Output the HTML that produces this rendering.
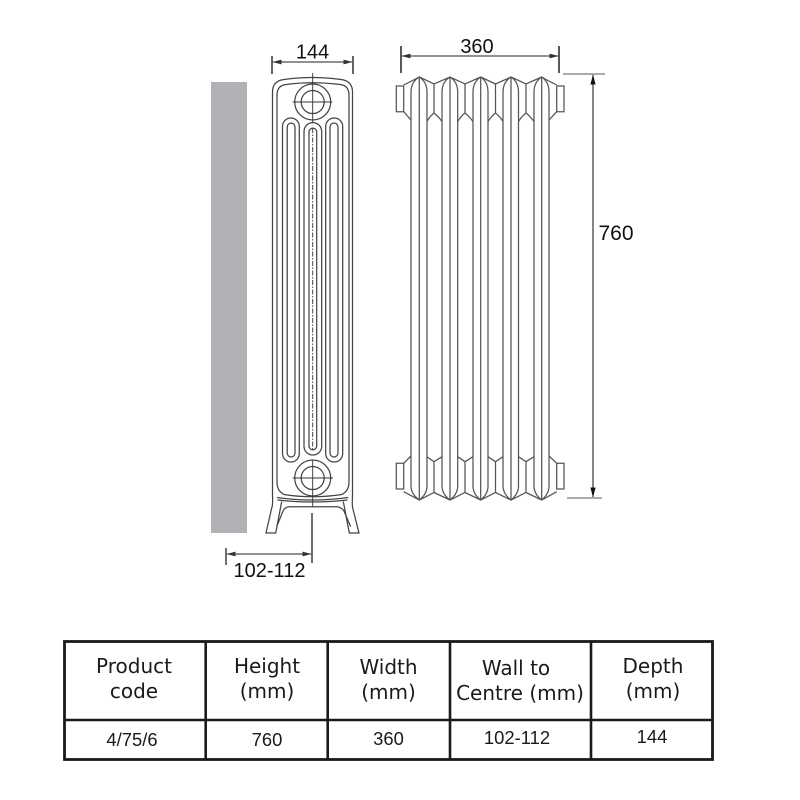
<!DOCTYPE html>
<html>
<head>
<meta charset="utf-8">
<style>
html,body{margin:0;padding:0;background:#fff}
svg{display:block}
.d{fill:none;stroke:#444;stroke-width:1.25}
.s{fill:none;stroke:#555;stroke-width:1.25}
.k{fill:none;stroke:#222;stroke-width:1.1}
.b{font-family:"Liberation Sans",sans-serif;font-size:20px;fill:#111;text-anchor:middle}
.h{font-family:"DejaVu Sans",sans-serif;font-size:20px;fill:#1a1a1a;text-anchor:middle}
.r{font-family:"Liberation Sans",sans-serif;font-size:18.4px;fill:#1a1a1a;text-anchor:middle}
</style>
</head>
<body>
<svg width="800" height="800" viewBox="0 0 800 800" xmlns="http://www.w3.org/2000/svg">
<defs>
<marker id="a" markerWidth="9" markerHeight="6" refX="8.5" refY="3" orient="auto-start-reverse" markerUnits="userSpaceOnUse"><path d="M0 .6L9 3 0 5.4z" fill="#333"/></marker>
<marker id="v" markerWidth="10" markerHeight="6" refX="9.5" refY="3" orient="auto-start-reverse" markerUnits="userSpaceOnUse"><path d="M0 .4L10 3 0 5.6z" fill="#111"/></marker>
</defs>
<rect width="800" height="800" fill="#fff"/>
<rect x="211" y="82" width="36" height="451" fill="#b1b2b5"/>

<!-- front view -->
<g class="d">
<path d="M272.5 495V92Q272.5 81 284 79.5Q312 75.5 341 79.5Q352.5 81 352.5 92V495"/>
<path d="M277 482V95Q277 85.5 286 84.5Q312 81 340 84.5Q349 85.5 349 95V482Q349 491 341.7 494.5Q312 499 284 494.5Q277 491 277 482Z"/>
<circle cx="312.7" cy="102" r="18"/>
<circle cx="312.7" cy="102" r="11.5"/>
<circle cx="312.7" cy="478" r="18"/>
<circle cx="312.7" cy="478" r="11.5"/>
<path d="M282.5 126.4A8.4 8.4 0 0 1 299.3 126.4V453.6A8.4 8.4 0 0 1 282.5 453.6Z"/>
<path d="M287.2 127A3.9 3.9 0 0 1 295 127V453A3.9 3.9 0 0 1 287.2 453Z"/>
<path d="M304 131.5A8.8 8.8 0 0 1 321.7 131.5V446.2A8.8 8.8 0 0 1 304 446.2Z"/>
<path d="M309 132A3.85 3.85 0 0 1 316.7 132V446A3.85 3.85 0 0 1 309 446Z"/>
<path d="M325.7 126.5A8.5 8.5 0 0 1 342.7 126.5V453.5A8.5 8.5 0 0 1 325.7 453.5Z"/>
<path d="M330 127A4 4 0 0 1 338 127V453A4 4 0 0 1 330 453Z"/>
<!-- feet -->
<path d="M272.5 495Q273 505 271.7 508L266 533H275.7L281.7 501.5"/>
<path d="M352.5 495Q352 505 352.7 508L359 533H349.3L343.3 501.5"/>
<path d="M276.7 497.5Q312 502.5 348.3 497.5"/>
<path d="M277.5 500Q312 504 347.5 500"/>
<path d="M276.7 526.7L283 511Q285 506.7 290 506.7H336Q341 506.7 344 511L350.7 526.7"/>
</g>
<g stroke="#333" stroke-width=".9" fill="none">
<path d="M312.7 73V123M292.7 102H332.3M312.7 460V507M292.7 478H333"/>
<path d="M312.7 128V450" stroke-dasharray="5 1.5 1.5 1.5"/>
</g>

<!-- dim 144 -->
<path class="k" d="M273 62H352" marker-start="url(#a)" marker-end="url(#a)"/>
<path class="k" d="M272 56V74M353 56V74" style="stroke-width:1.4"/>
<text class="b" x="312.5" y="58.5">144</text>

<!-- dim 102-112 -->
<path class="k" d="M227 554H311" marker-start="url(#a)" marker-end="url(#a)"/>
<path class="k" d="M226 548V565M312 513V563" style="stroke-width:1.3"/>
<text class="b" x="269.5" y="577">102-112</text>

<!-- side view -->
<g class="s">
<path d="M396.3 86H403.7V111.7H396.3Z"/>
<path d="M556.7 86H564V111.7H556.7Z"/>
<path d="M396.3 463.3H403.7V489H396.3Z"/>
<path d="M556.7 463.3H564V489H556.7Z"/>
<!-- silhouette -->
<path d="M403.7 85L415 79.3L419.3 77L434 84L450 77L465 84L480.7 77L495.5 84L511 77L526 84L541.7 77L545.5 79.3L556.7 85"/>
<path d="M403.7 491.7L419.3 500L434 492.5L450 500L465 492.5L480.7 500L495.5 492.5L511 500L526 492.5L541.7 500L556.7 491.7"/>
<path d="M403.7 111.7L411 120M403.7 463.3L411 456M556.7 111.7L549 120M556.7 463.3L549 456"/>
<!-- column center lines -->
<path d="M419.3 77V500M450 77V500M480.7 77V500M511 77V500M541.7 77V500"/>
<!-- column sides -->
<path d="M419.3 77Q411 82 411 92V486Q411 494 419.3 500M419.3 77Q427 82 427 92V486Q427 494 419.3 500"/>
<path d="M450 77Q442 82 442 92V486Q442 494 450 500M450 77Q457.7 82 457.7 92V486Q457.7 494 450 500"/>
<path d="M480.7 77Q473 82 473 92V486Q473 494 480.7 500M480.7 77Q488 82 488 92V486Q488 494 480.7 500"/>
<path d="M511 77Q503 82 503 92V486Q503 494 511 500M511 77Q518.5 82 518.5 92V486Q518.5 494 511 500"/>
<path d="M541.7 77Q534 82 534 92V486Q534 494 541.7 500M541.7 77Q549 82 549 92V486Q549 494 541.7 500"/>
<!-- connectors -->
<path d="M434 84V113M427 121.5Q430 116 434 113Q438 116 442 121.5M434 461.7V492.5M427 456.7L434 461.7L442 456.7"/>
<path d="M465 84V113M457.7 121.5Q461 116 465 113Q469 116 473 121.5M465 461.7V492.5M457.7 456.7L465 461.7L473 456.7"/>
<path d="M495.5 84V113M488 121.5Q491.5 116 495.5 113Q499.5 116 503 121.5M495.5 461.7V492.5M488 456.7L495.5 461.7L503 456.7"/>
<path d="M526 84V113M518.5 121.5Q522 116 526 113Q530 116 534 121.5M526 461.7V492.5M518.5 456.7L526 461.7L534 456.7"/>
</g>

<!-- dim 360 -->
<path class="k" d="M402 56H558" marker-start="url(#a)" marker-end="url(#a)"/>
<path class="k" d="M401 46V73M559 46V73" style="stroke-width:1.5"/>
<text class="b" x="477" y="53">360</text>

<!-- dim 760 -->
<path class="k" d="M563 74H605M567 498H602" style="stroke:#555"/>
<path class="k" d="M593 75V497" marker-start="url(#v)" marker-end="url(#v)"/>
<text class="b" x="616" y="240" style="font-size:21px">760</text>

<!-- table -->
<rect x="64.5" y="641.5" width="648" height="118" fill="none" stroke="#1a1a1a" stroke-width="2.8"/>
<path d="M64 720H713" stroke="#1a1a1a" stroke-width="2.4"/>
<path d="M205.7 641V760M327.7 641V760M450 641V760M591 641V760" stroke="#1a1a1a" stroke-width="2.6"/>

<text class="h" x="134" y="673">Product</text>
<text class="h" x="134" y="698">code</text>
<text class="h" x="267" y="673">Height</text>
<text class="h" x="267" y="698">(mm)</text>
<text class="h" x="388.5" y="674">Width</text>
<text class="h" x="388.5" y="699">(mm)</text>
<text class="h" x="516" y="675">Wall to</text>
<text class="h" x="520" y="700">Centre (mm)</text>
<text class="h" x="653" y="673">Depth</text>
<text class="h" x="653" y="698">(mm)</text>

<text class="r" x="132" y="746">4/75/6</text>
<text class="r" x="267" y="746">760</text>
<text class="r" x="388.5" y="745">360</text>
<text class="r" x="517" y="744">102-112</text>
<text class="r" x="652" y="743">144</text>
</svg>
</body>
</html>
